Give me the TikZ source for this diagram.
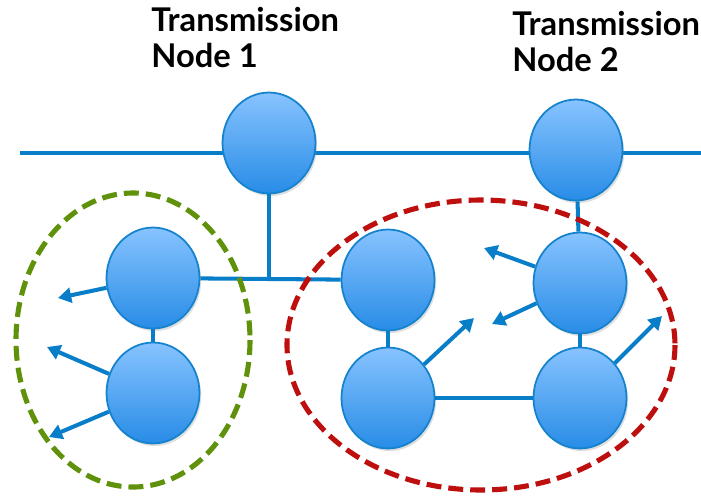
\documentclass[tikz,border=0pt]{standalone}
\usepackage{fontspec}
\setmainfont{Lato}
\usetikzlibrary{arrows.meta,shapes.geometric,shadows}

\definecolor{linkblue}{RGB}{8,126,200}
\definecolor{nodeedge}{RGB}{20,130,205}
\definecolor{nodetop}{RGB}{135,195,255}
\definecolor{nodebottom}{RGB}{40,140,230}
\definecolor{ringgreen}{RGB}{95,145,10}
\definecolor{ringred}{RGB}{190,15,15}

\begin{document}
\begin{tikzpicture}[x=0.02cm,y=-0.02cm,
    station/.style={ellipse, draw=nodeedge, line width=1pt,
        top color=nodetop, bottom color=nodebottom,
        minimum width=1.86cm, minimum height=2.02cm, inner sep=0pt,
        drop shadow={opacity=0.25, shadow xshift=1pt, shadow yshift=-1.5pt}},
    link/.style={draw=linkblue, line width=2.3pt},
    ray/.style={link, -{Triangle[length=7.5pt,width=8.5pt]}},
    ring/.style={line width=2.9pt, dash pattern=on 8.5pt off 4pt},
    tagtext/.style={font=\fontsize{18.6}{20.5}\selectfont\bfseries,
        align=left, anchor=north west, inner sep=0pt}]
\useasboundingbox (0,0) rectangle (701,495);

% Bus
\coordinate (busL) at (20,153);
\coordinate (busR) at (701,153);
\draw[link] (busL) -- (busR);

% Transmission nodes
\node[station] (T1) at (269,143) {};
\node[station] (T2) at (576,150) {};
\node[tagtext] (lblT1) at (151,7) {Transmission\\Node 1};
\node[tagtext] (lblT2) at (512,11) {Transmission\\Node 2};

% Cluster nodes
\node[station] (A1) at (153,278) {};
\node[station] (A2) at (153,393) {};
\node[station] (B1) at (388,280) {};
\node[station] (B2) at (388,398) {};
\node[station] (C1) at (580,283) {};
\node[station] (C2) at (580,398) {};

% Links
\coordinate (hub) at (T1 |- A1);
\draw[link] (A1) -- (B1);
\draw[link] (T1) -- (hub);
\draw[link] (A1) -- (A2);
\draw[link] (B1) -- (B2);
\draw[link] (B2) -- (C2);
\draw[link] (T2) -- (C1);
\draw[link] (C1) -- (C2);

% Outgoing arrows
\foreach \n/\x/\y [count=\i] in {A1/58/298, A2/47/347, A2/49/437,
    B2/474/318, C1/484/248, C1/492/324, C2/662/316} {
  \coordinate (tip\i) at (\x,\y);
  \draw[ray] (\n) -- (tip\i);
}

% Clusters
\draw[ring, draw=ringgreen] (133,340) ellipse (117 and 147);
\draw[ring, draw=ringred] (481,345) ellipse (194 and 145);

\end{tikzpicture}
\end{document}
